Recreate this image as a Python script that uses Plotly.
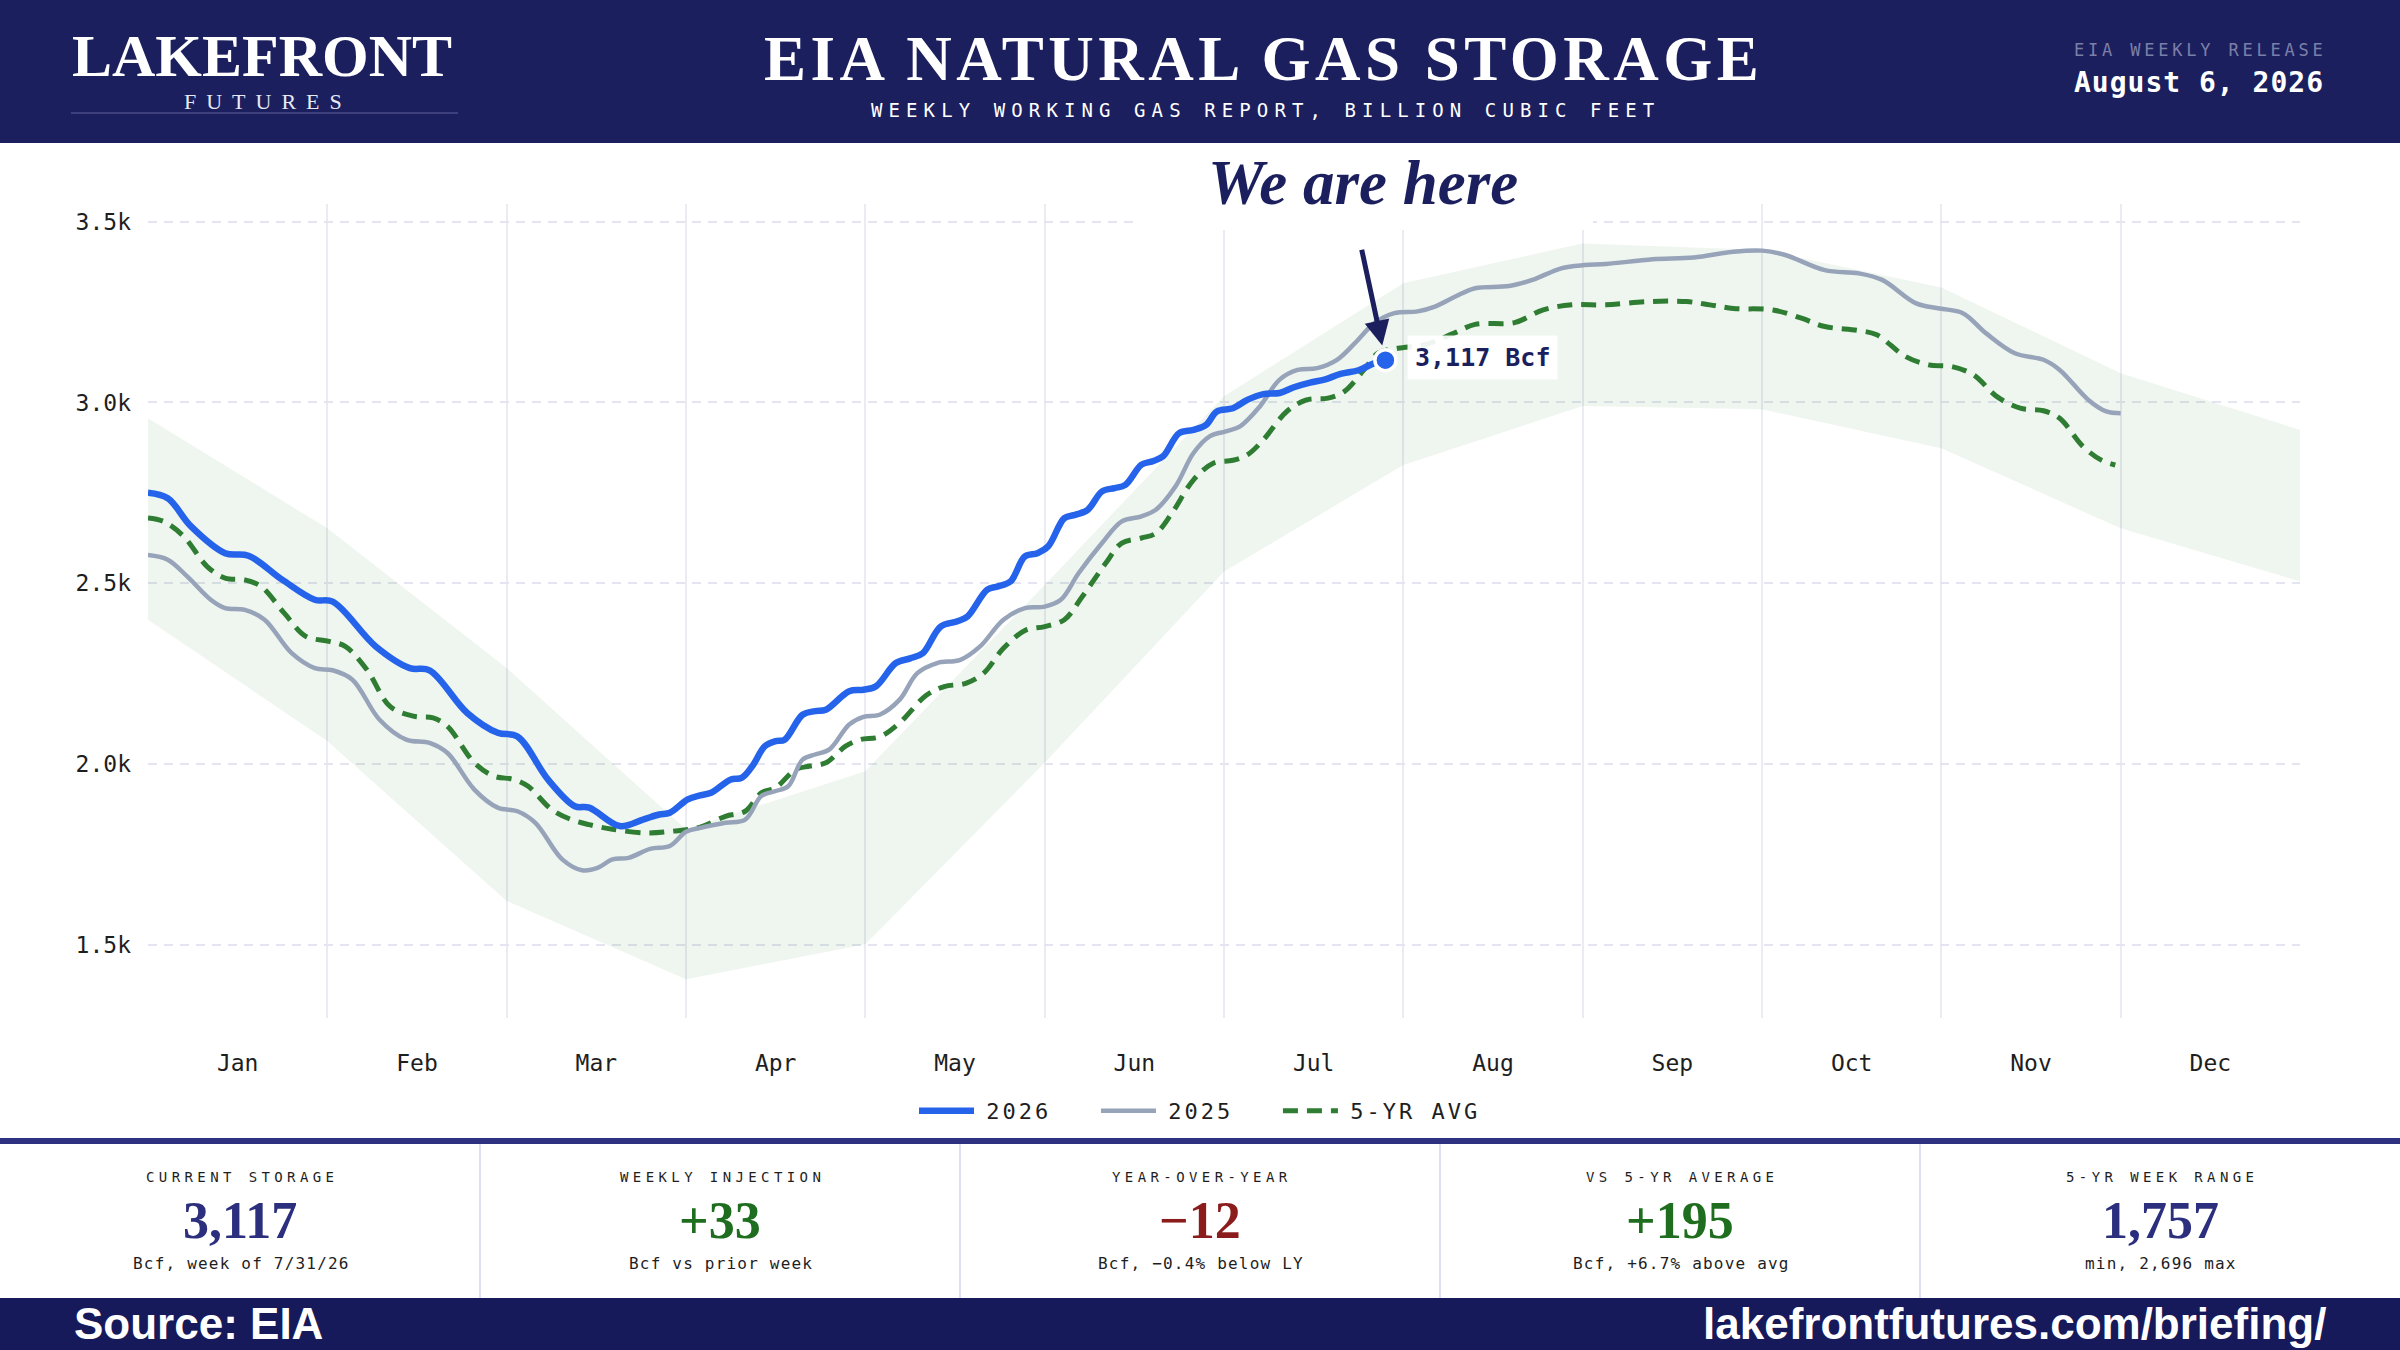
import plotly.graph_objects as go

# --------------------------------------------------
# Data (Bcf), x in months since Jan 1
# --------------------------------------------------
MONTHS = ["Jan", "Feb", "Mar", "Apr", "May", "Jun",
          "Jul", "Aug", "Sep", "Oct", "Nov", "Dec"]

# 5-yr min/max band, one vertex per month boundary
BAND_MONTH = [0, 1, 2, 3, 4, 5, 6, 7, 8, 9, 10, 11, 12]
BAND_HIGH = [2956, 2652, 2265, 1819, 1980, 2495, 3017, 3330, 3440, 3422, 3318, 3081, 2924]
BAND_LOW = [2399, 2063, 1621, 1404, 1501, 2003, 2532, 2827, 2990, 2981, 2873, 2652, 2505]

T_2026 = [0.00, 0.11, 0.24, 0.43, 0.56, 0.75, 0.93, 1.03, 1.27, 1.46, 1.57, 1.78, 1.95,
          2.06, 2.23, 2.38, 2.46, 2.63, 2.76, 2.85, 2.91, 3.01, 3.08, 3.14, 3.25, 3.31,
          3.37, 3.44, 3.50, 3.55, 3.65, 3.72, 3.78, 3.91, 3.99, 4.06, 4.17, 4.25, 4.32,
          4.42, 4.51, 4.57, 4.68, 4.74, 4.81, 4.89, 4.96, 5.02, 5.11, 5.17, 5.24, 5.32,
          5.39, 5.45, 5.54, 5.60, 5.66, 5.75, 5.83, 5.90, 5.96, 6.05, 6.13, 6.22, 6.31,
          6.39, 6.48, 6.56, 6.65, 6.75, 6.84, 6.90]
V_2026 = [2750, 2735, 2657, 2583, 2576, 2509, 2454, 2449, 2325, 2265, 2259, 2141, 2086,
          2076, 1957, 1883, 1879, 1828, 1846, 1860, 1865, 1902, 1913, 1920, 1957, 1961,
          1994, 2049, 2063, 2067, 2136, 2146, 2150, 2201, 2205, 2215, 2279, 2292, 2306,
          2380, 2394, 2408, 2482, 2491, 2505, 2574, 2583, 2602, 2680, 2689, 2703, 2754,
          2763, 2772, 2828, 2837, 2851, 2915, 2924, 2938, 2975, 2984, 3007, 3023, 3026,
          3042, 3055, 3063, 3079, 3089, 3109, 3117]

T_2025 = [0.00, 0.11, 0.22, 0.35, 0.43, 0.54, 0.65, 0.80, 0.93, 1.03, 1.14, 1.29, 1.44,
          1.57, 1.67, 1.82, 1.95, 2.06, 2.16, 2.31, 2.42, 2.51, 2.59, 2.68, 2.80, 2.91,
          3.00, 3.08, 3.22, 3.33, 3.42, 3.50, 3.57, 3.65, 3.72, 3.80, 3.91, 3.99, 4.08,
          4.19, 4.29, 4.40, 4.53, 4.64, 4.77, 4.89, 5.00, 5.09, 5.19, 5.32, 5.43, 5.54,
          5.62, 5.73, 5.83, 5.92, 6.01, 6.09, 6.20, 6.31, 6.41, 6.52, 6.63, 6.73, 6.84,
          6.95, 7.08, 7.18, 7.29, 7.40, 7.59, 7.72, 7.88, 8.01, 8.13, 8.39, 8.62, 8.84,
          9.00, 9.13, 9.35, 9.54, 9.67, 9.86, 9.99, 10.12, 10.25, 10.41, 10.57, 10.66,
          10.82, 10.92, 11.00]
V_2025 = [2578, 2565, 2518, 2454, 2431, 2426, 2399, 2307, 2265, 2259, 2233, 2123, 2067,
          2058, 2030, 1929, 1879, 1869, 1837, 1736, 1706, 1713, 1736, 1740, 1765, 1773,
          1812, 1823, 1837, 1846, 1911, 1925, 1938, 2012, 2026, 2040, 2109, 2130, 2136,
          2177, 2251, 2279, 2288, 2325, 2399, 2431, 2435, 2454, 2528, 2611, 2671, 2685,
          2703, 2768, 2860, 2906, 2920, 2934, 2989, 3063, 3090, 3095, 3118, 3164, 3220,
          3247, 3252, 3266, 3293, 3316, 3322, 3339, 3371, 3380, 3383, 3396, 3401, 3417,
          3420, 3408, 3366, 3357, 3339, 3274, 3260, 3247, 3191, 3136, 3118, 3090,
          3007, 2975, 2970]

T_AVG = [0.00, 0.09, 0.20, 0.33, 0.43, 0.54, 0.63, 0.76, 0.88, 1.01, 1.10, 1.22, 1.35,
         1.48, 1.59, 1.67, 1.82, 1.93, 2.04, 2.12, 2.25, 2.36, 2.46, 2.59, 2.78, 2.93,
         3.08, 3.22, 3.33, 3.42, 3.50, 3.61, 3.69, 3.78, 3.89, 3.97, 4.08, 4.19, 4.34,
         4.44, 4.56, 4.66, 4.77, 4.89, 5.00, 5.11, 5.21, 5.34, 5.43, 5.54, 5.62, 5.71,
         5.83, 5.94, 6.05, 6.13, 6.22, 6.35, 6.46, 6.58, 6.67, 6.78, 6.86, 6.97, 7.12,
         7.28, 7.40, 7.62, 7.78, 7.94, 8.13, 8.36, 8.58, 8.71, 8.84, 9.06, 9.22, 9.35,
         9.54, 9.64, 9.80, 9.93, 10.06, 10.18, 10.31, 10.44, 10.57, 10.66, 10.79, 10.89,
         10.97]
V_AVG = [2680, 2670, 2629, 2546, 2514, 2509, 2491, 2417, 2353, 2339, 2325, 2261, 2159,
         2132, 2127, 2104, 2003, 1966, 1957, 1938, 1874, 1846, 1832, 1819, 1809, 1814,
         1825, 1855, 1869, 1920, 1934, 1984, 1994, 2003, 2049, 2067, 2075, 2113, 2190,
         2214, 2223, 2251, 2320, 2369, 2380, 2399, 2463, 2555, 2611, 2625, 2638, 2694,
         2786, 2832, 2840, 2855, 2897, 2975, 3007, 3012, 3030, 3090, 3137, 3150, 3160,
         3191, 3216, 3221, 3256, 3270, 3270, 3279, 3279, 3270, 3260, 3256, 3233, 3210,
         3199, 3187, 3127, 3104, 3099, 3076, 3016, 2984, 2977, 2956, 2878, 2841,
         2827]

Y_TICKS = [1500, 2000, 2500, 3000, 3500]

KPI_LABELS = ["CURRENT STORAGE", "WEEKLY INJECTION", "YEAR-OVER-YEAR",
              "VS 5-YR AVERAGE", "5-YR WEEK RANGE"]
KPI_VALUES = ["3,117", "+33", "\u221212", "+195", "1,757"]
KPI_NOTES = ["Bcf, week of 7/31/26", "Bcf vs prior week", "Bcf, \u22120.4% below LY",
             "Bcf, +6.7% above avg", "min, 2,696 max"]

# --------------------------------------------------
# Styling
# --------------------------------------------------
W, H = 2400, 1350
ML, MR, MT, MB = 148, 100, 204, 332
PW = W - ML - MR
PH = H - MT - MB

NAVY = "#1c1f5e"
NAVY_FOOT = "#16195a"
NAVY_RULE = "#2d3180"
BLUE = "#2563eb"
GREY = "#96a3b9"
GREEN = "#2e7d32"
BAND = "rgba(46,125,50,0.08)"
GRID = "#e4e5f0"
MONO = "DejaVu Sans Mono"
SERIF = "Liberation Serif"
SANS = "Liberation Sans"
KPI_COLORS = ["#2b2f7e", "#1f6e1f", "#8b1c1c", "#1f6e1f", "#2b2f7e"]


def px_x(X):
    return (X - ML) / PW


def px_y(Y):
    return (H - MB - Y) / PH


def spaced(s, ls):
    return f'<span style="letter-spacing:{ls}px">{s}</span>'


def legend_name(s, pad=0):
    # small lead-in gap between the legend line and its text, optional tail pad
    tail = f'<span style="letter-spacing:0px">{chr(160) * pad}</span>' if pad else ""
    return '<span style="font-size:12px">\u00a0</span>' + spaced(s, 3) + tail


def note(text, X, Y, size, color, family, xanchor="center", weight="normal",
         style="normal", ls=None):
    if ls:
        text = spaced(text, ls)
    return dict(text=text, x=px_x(X), y=px_y(Y), xref="paper", yref="paper",
                xanchor=xanchor, yanchor="middle", showarrow=False,
                font=dict(size=size, color=color, family=family,
                          weight=weight, style=style))


fig = go.Figure()

# 5-yr range band
fig.add_trace(go.Scatter(
    x=BAND_MONTH + BAND_MONTH[::-1],
    y=BAND_HIGH + BAND_LOW[::-1],
    fill="toself", fillcolor=BAND, line=dict(width=0),
    mode="lines", showlegend=False, hoverinfo="skip",
))

fig.add_trace(go.Scatter(
    x=T_AVG, y=V_AVG, mode="lines", name=legend_name("5-YR AVG"),
    line=dict(color=GREEN, width=5, dash="15px,9px", shape="spline"),
    legendrank=3,
))
fig.add_trace(go.Scatter(
    x=T_2025, y=V_2025, mode="lines", name=legend_name("2025", 3),
    line=dict(color=GREY, width=4.5, shape="spline"),
    legendrank=2,
))
fig.add_trace(go.Scatter(
    x=T_2026, y=V_2026, mode="lines", name=legend_name("2026", 3),
    line=dict(color=BLUE, width=6.5, shape="spline"),
    legendrank=1,
))
# latest point
fig.add_trace(go.Scatter(
    x=T_2026[-1:], y=V_2026[-1:], mode="markers", showlegend=False,
    marker=dict(size=21, color=BLUE, line=dict(color="white", width=3.5)),
))

# --------------------------------------------------
# Header / KPI / footer blocks
# --------------------------------------------------
shapes = [
    dict(type="rect", xref="paper", yref="paper", x0=px_x(0), x1=px_x(W),
         y0=px_y(143), y1=px_y(0), fillcolor=NAVY, line=dict(width=0), layer="above"),
    dict(type="line", xref="paper", yref="paper", x0=px_x(71), x1=px_x(458),
         y0=px_y(113), y1=px_y(113), line=dict(color="#5d6198", width=1.2)),
    # white backing behind the "We are here" callout
    dict(type="rect", xref="paper", yref="paper", x0=px_x(1133), x1=px_x(1593),
         y0=px_y(230), y1=px_y(144), fillcolor="white", line=dict(width=0), layer="above"),
    dict(type="rect", xref="paper", yref="paper", x0=px_x(0), x1=px_x(W),
         y0=px_y(1144), y1=px_y(1138), fillcolor=NAVY_RULE, line=dict(width=0)),
    dict(type="rect", xref="paper", yref="paper", x0=px_x(0), x1=px_x(W),
         y0=px_y(H), y1=px_y(1298), fillcolor=NAVY_FOOT, line=dict(width=0)),
]
for i in range(1, 5):
    X = 480 * i
    shapes.append(dict(type="line", xref="paper", yref="paper", x0=px_x(X), x1=px_x(X),
                       y0=px_y(1298), y1=px_y(1144),
                       line=dict(color="#d3d5ee", width=1.5)))

annotations = [
    note("LAKEFRONT", 70, 56, 60, "white", SERIF, xanchor="left", weight="bold"),
    note("FUTURES", 268, 102, 22, "#e8e9f4", SERIF, ls=10),
    note("EIA NATURAL GAS STORAGE", 1263, 59, 63, "white", SERIF, weight="bold", ls=4.5),
    note("WEEKLY WORKING GAS REPORT, BILLION CUBIC FEET", 1265, 110, 19, "white", MONO, ls=6.1),
    note("EIA WEEKLY RELEASE", 2329, 50, 17, "#7b7fa8", MONO, xanchor="right", ls=3.8),
    note("August 6, 2026", 2326, 83, 28, "white", MONO, xanchor="right", weight="bold", ls=1),
    note("Source: EIA", 72, 1323, 44, "white", SANS, xanchor="left", weight="bold"),
    note("lakefrontfutures.com/briefing/", 2328, 1323, 44, "white", SANS,
         xanchor="right", weight="bold"),
    note("We are here", 1363, 183, 63, NAVY, SERIF, weight="bold", style="italic"),
]

for i, (lab, val, sub, col) in enumerate(zip(KPI_LABELS, KPI_VALUES, KPI_NOTES, KPI_COLORS)):
    cx = 240 + 480 * i
    annotations.append(note(lab, cx + 2, 1177, 14, "#1e1e1e", MONO, ls=4.4))
    annotations.append(note(val, cx, 1220, 52, col, SERIF, weight="bold"))
    annotations.append(note(sub, cx + 1, 1263, 16, "#1e1e1e", MONO, ls=1.2))

annotations.append(dict(
    text="", x=T_2026[-1], y=V_2026[-1], xref="x", yref="y",
    showarrow=True, ax=-24, ay=-112, standoff=15,
    arrowhead=2, arrowsize=1, arrowwidth=5, arrowcolor=NAVY,
))
annotations.append(dict(
    text=f"{V_2026[-1]:,} Bcf", x=T_2026[-1], y=V_2026[-1], xref="x", yref="y",
    xanchor="left", yanchor="middle", xshift=22, yshift=3, showarrow=False,
    bgcolor="rgba(255,255,255,0.92)", borderpad=7,
    font=dict(size=25, color=NAVY, family=MONO, weight="bold"),
))

fig.update_layout(
    width=W, height=H,
    margin=dict(l=ML, r=MR, t=MT, b=MB),
    paper_bgcolor="white", plot_bgcolor="white",
    shapes=shapes, annotations=annotations,
    hovermode=False,
    legend=dict(
        orientation="h", xref="container", yref="container",
        x=0.5, xanchor="center", y=1 - 1111 / H, yanchor="middle",
        font=dict(family=MONO, size=22, color="#1e1e1e"),
        itemwidth=55, bgcolor="rgba(0,0,0,0)",
    ),
    xaxis=dict(
        range=[0, 12], showgrid=False, zeroline=False, showline=False,
        tickmode="array", tickvals=[i + 0.5 for i in range(12)], ticktext=MONTHS,
        ticks="", ticklabelstandoff=29,
        tickfont=dict(family=MONO, size=23, color="#1e1e1e"),
        minor=dict(tickmode="array", tickvals=list(range(1, 12)), showgrid=True,
                   gridcolor="#ebebf4", gridwidth=1.5, ticks=""),
    ),
    yaxis=dict(
        range=[1297, 3549], tickmode="array", tickvals=Y_TICKS, tickformat=".2s",
        showgrid=True, gridcolor=GRID, gridwidth=1.8, griddash="9px,7px",
        zeroline=False, showline=False, ticks="", ticklabelstandoff=16,
        tickfont=dict(family=MONO, size=23, color="#1e1e1e"),
    ),
)

fig.write_html(
    "out.html",
    config={"displayModeBar": False},
    post_script="document.body.style.margin='0';document.body.style.overflow='hidden';",
)
